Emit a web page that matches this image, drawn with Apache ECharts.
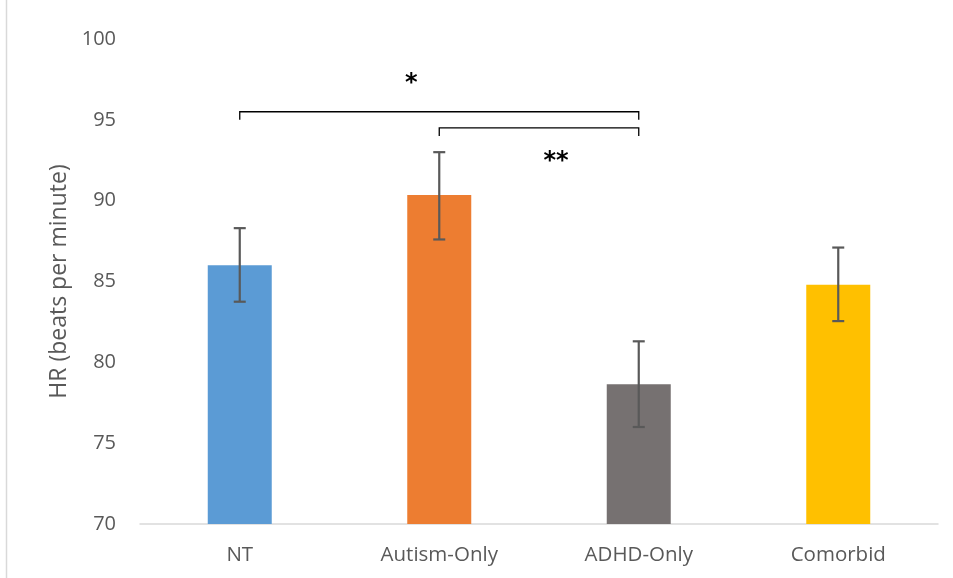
<!DOCTYPE html>
<html>
<head>
<meta charset="utf-8">
<script src="https://cdn.jsdelivr.net/npm/echarts@6/dist/echarts.min.js"></script>
<style>
  html, body { margin: 0; padding: 0; background: #fff; }
  #chart { width: 953px; height: 578px; }
</style>
</head>
<body>
<div id="chart"></div>
<script>
// Group means of heart rate with error bars
const categories = ['NT', 'Autism-Only', 'ADHD-Only', 'Comorbid'];
const meanHR = [86.0, 90.35, 78.65, 84.8];
const errLow = [83.75, 87.6, 76.0, 82.55];
const errHigh = [88.3, 93.0, 81.3, 87.1];
const barColors = ['#5B9BD5', '#ED7D31', '#767171', '#FFC000'];

// Axis range
const yMin = 70, yMax = 100, yStep = 5;

// Pairwise comparisons: [fromIndex, toIndex, bracketLevel, tickDrop]
const bracketFrom = [0, 1];
const bracketTo = [2, 2];
const bracketLevel = [95.5, 94.5];
const bracketDrop = [0.5, 0.5];
// Significance marks: text, category position, value level
const sigText = ['*', '**'];
const sigAt = [0.86, 1.585];
const sigLevel = [97.5, 92.65];

const FONT = '"Open Sans", "Noto Sans", sans-serif';

const chart = echarts.init(document.getElementById('chart'), null, { renderer: 'canvas' });

const errorData = categories.map((c, i) => [i, errLow[i], errHigh[i]]);
const bracketData = bracketFrom.map((f, i) => [f, bracketTo[i], bracketLevel[i], bracketDrop[i]]);
const sigData = sigText.map((t, i) => [sigAt[i], sigLevel[i], i]);

function xAt(api, pos) {
  const i0 = Math.floor(pos);
  const a = api.coord([i0, yMin])[0];
  if (pos === i0) return a;
  const b = api.coord([i0 + 1, yMin])[0];
  return a + (b - a) * (pos - i0);
}

chart.setOption({
  animation: false,
  grid: { left: 140, right: 15, top: 39, bottom: 54, containLabel: false },
  xAxis: {
    type: 'category',
    data: categories,
    axisLine: { show: true, lineStyle: { color: '#D9D9D9', width: 1.5 } },
    axisTick: { show: false },
    axisLabel: { color: '#595959', fontSize: 20.5, fontFamily: FONT, margin: 21 }
  },
  yAxis: {
    type: 'value',
    min: yMin, max: yMax, interval: yStep,
    name: 'HR (beats per minute)',
    nameLocation: 'middle',
    nameGap: 67,
    nameTextStyle: { color: '#595959', fontSize: 23, fontFamily: FONT },
    axisLine: { show: false },
    axisTick: { show: false },
    splitLine: { show: false },
    axisLabel: { color: '#595959', fontSize: 20, fontFamily: FONT, margin: 24 }
  },
  graphic: [{
    type: 'line',
    shape: { x1: 6.5, y1: 0, x2: 6.5, y2: 578 },
    style: { stroke: '#D9D9D9', lineWidth: 1.5 }
  }],
  series: [
    {
      type: 'bar',
      barWidth: 64,
      data: meanHR.map((v, i) => ({ value: v, itemStyle: { color: barColors[i] } }))
    },
    {
      type: 'custom',
      data: errorData,
      z: 5,
      renderItem: function (params, api) {
        const x = api.coord([api.value(0), api.value(1)])[0];
        const lo = api.coord([api.value(0), api.value(1)])[1];
        const hi = api.coord([api.value(0), api.value(2)])[1];
        const half = 6;
        const st = { stroke: '#595959', lineWidth: 2.2 };
        return {
          type: 'group',
          children: [
            { type: 'line', shape: { x1: x, y1: hi, x2: x, y2: lo }, style: st },
            { type: 'line', shape: { x1: x - half, y1: hi, x2: x + half, y2: hi }, style: st },
            { type: 'line', shape: { x1: x - half, y1: lo, x2: x + half, y2: lo }, style: st }
          ]
        };
      }
    },
    {
      type: 'custom',
      data: bracketData,
      z: 6,
      clip: false,
      renderItem: function (params, api) {
        const xa = xAt(api, api.value(0));
        const xb = xAt(api, api.value(1));
        const y = api.coord([0, api.value(2)])[1];
        const yd = api.coord([0, api.value(2) - api.value(3)])[1];
        return {
          type: 'polyline',
          shape: { points: [[xa, yd], [xa, y], [xb, y], [xb, yd]] },
          style: { stroke: '#000', lineWidth: 1.3, fill: null }
        };
      }
    },
    {
      type: 'custom',
      data: sigData,
      z: 7,
      clip: false,
      renderItem: function (params, api) {
        const x = xAt(api, api.value(0));
        const y = api.coord([0, api.value(1)])[1];
        return {
          type: 'text',
          style: {
            text: sigText[api.value(2)],
            x: x, y: y + 4,
            align: 'center', verticalAlign: 'middle',
            font: 'bold 24px "DejaVu Sans", sans-serif',
            fill: '#000'
          }
        };
      }
    }
  ]
});
</script>
</body>
</html>
